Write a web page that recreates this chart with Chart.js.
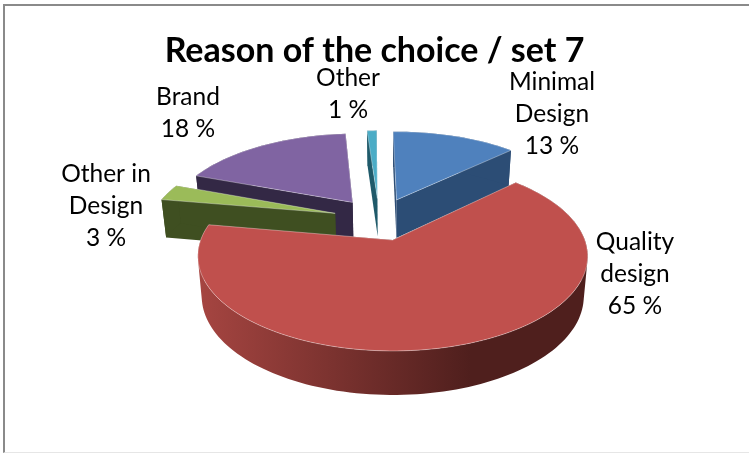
<!DOCTYPE html>
<html>
<head>
<meta charset="utf-8">
<title>Reason of the choice / set 7</title>
<script src="https://cdn.jsdelivr.net/npm/chart.js@4"></script>
<style>
    html, body { margin: 0; padding: 0; background: #fff; }
    #frame {
        position: absolute; left: 3px; top: 4px; right: 0; bottom: 0;
        border-top: 2px solid #8a8a8a;
        border-left: 2px solid #8a8a8a;
        border-bottom: 1px solid #e6e6e6;
    }
    #pie { position: absolute; left: 0; top: 0; }
</style>
</head>
<body>
<div id="frame"></div>
<canvas id="pie" width="749" height="453"></canvas>
<script>
const categories = ['Minimal Design', 'Quality design', 'Other in Design', 'Brand', 'Other'];
const shares = [13, 65, 3, 18, 1];
const topColors = ['#4f81bd', '#c0504d', '#9bbb59', '#8064a2', '#4bacc6'];
const wallColors = ['#2c4d75', '#4f1f1d', '#3f4f21', '#332845', '#1f5a6a'];
const labelLines = [['Minimal', 'Design'], ['Quality', 'design'], ['Other in', 'Design'], ['Brand'], ['Other']];

// centre of each label block, the pie itself gets its place from the camera below
const labelAnchors = [[552, 114], [635, 274], [106, 206], [188, 113], [348, 94]];

// back to front, red goes last because it sits closest to the viewer
const paintOrder = [4, 0, 3, 2, 1];

// fake perspective camera for the tilted pie
const camera = {
    panX: 17.5, panY: -24,
    scaleX: 1.601, scaleY: 0.7677,  // multiplied by the arc radius
    tilt: 0.17,
    originX: -0.07, originY: -0.24, // where the un-exploded centre lands
    depth: 39.6, depthX: 0.98, depthY: 1.04
};

const project = (chart, arc, u, v) => {
    const w = 1 - camera.tilt * (v + camera.originY);
    const dx = arc.outerRadius * camera.scaleX * (u + camera.originX) / w;
    const dy = arc.outerRadius * camera.scaleY * (v + camera.originY) / w;
    const x0 = arc.x + camera.panX;
    const y0 = arc.y + camera.panY;
    return {
        top: [x0 + dx, y0 + dy],
        bottom: [x0 + dx * camera.depthX, y0 + camera.depth + dy * camera.depthY]
    };
};

// samples one slice's rim, the first entry is the exploded apex
const sliceRim = (chart, arc) => {
    const mid = (arc.startAngle + arc.endAngle) / 2;
    // same explosion distance ArcElement.draw uses
    const e = arc.options.offset / 4 / arc.outerRadius;
    const ax = Math.cos(mid) * e;
    const ay = Math.sin(mid) * e;
    const rim = [];
    const steps = Math.max(2, Math.ceil((arc.endAngle - arc.startAngle) / 0.03));
    for (let i = 0; i <= steps; i++) {
        const a = arc.startAngle + (arc.endAngle - arc.startAngle) * i / steps;
        rim.push(project(chart, arc, ax + Math.cos(a), ay + Math.sin(a)));
    }
    return { apex: project(chart, arc, ax, ay), rim };
};

const addPolygon = (ctx, pts) => {
    pts.forEach((p, i) => i ? ctx.lineTo(p[0], p[1]) : ctx.moveTo(p[0], p[1]));
    ctx.closePath();
};

const tracePath = (ctx, pts) => {
    ctx.beginPath();
    addPolygon(ctx, pts);
};

// shoelace sign, so every wall quad winds the same way
const signedArea = pts => pts.reduce((sum, p, i) => {
    const q = pts[(i + 1) % pts.length];
    return sum + p[0] * q[1] - q[0] * p[1];
}, 0);

const pie3d = {
    id: 'pie3d',
    beforeDatasetDraw(chart, args) {
        const ctx = chart.ctx;
        const arcs = args.meta.data;
        ctx.save();
        paintOrder.forEach(i => {
            const { apex, rim } = sliceRim(chart, arcs[i]);
            const first = rim[0];
            const last = rim[rim.length - 1];

            // wall colour, red gets the sideways shading
            let wall = wallColors[i];
            if (i === 1) {
                const xs = rim.map(p => p.top[0]);
                const left = Math.min(...xs);
                const right = Math.max(...xs);
                wall = ctx.createLinearGradient(left, 0, right, 0);
                wall.addColorStop(0, '#a64541');
                wall.addColorStop(0.7, '#4f1f1d');
                wall.addColorStop(1, '#4f1f1d');
            }
            ctx.fillStyle = wall;

            tracePath(ctx, [apex.top, first.top, first.bottom, apex.bottom]);
            ctx.fill();
            tracePath(ctx, [apex.top, last.top, last.bottom, apex.bottom]);
            ctx.fill();

            // all rim quads in one path, filled at once so no seams show
            ctx.beginPath();
            for (let s = 0; s < rim.length - 1; s++) {
                const quad = [rim[s].top, rim[s + 1].top, rim[s + 1].bottom, rim[s].bottom];
                addPolygon(ctx, signedArea(quad) < 0 ? quad.reverse() : quad);
            }
            ctx.fill();

            tracePath(ctx, [apex.top].concat(rim.map(p => p.top)));
            ctx.fillStyle = topColors[i];
            ctx.fill();
            ctx.strokeStyle = 'rgba(255,255,255,0.35)';
            ctx.lineWidth = 1;
            ctx.stroke();
        });
        ctx.restore();
        return false;
    },
    afterDraw(chart) {
        const ctx = chart.ctx;
        ctx.save();
        ctx.font = '24.5px Lato';
        ctx.fillStyle = '#000';
        ctx.textAlign = 'center';
        ctx.textBaseline = 'middle';
        labelLines.forEach((lines, i) => {
            const rows = lines.concat(shares[i] + ' %');
            const startY = labelAnchors[i][1] - (rows.length - 1) * 16;
            rows.forEach((row, r) => ctx.fillText(row, labelAnchors[i][0], startY + r * 32));
        });
        ctx.restore();
    }
};

new Chart(document.getElementById('pie'), {
    type: 'pie',
    data: {
        labels: categories,
        datasets: [{
            data: shares,
            backgroundColor: topColors,
            radius: 120,
            offset: 120,
            borderWidth: 0
        }]
    },
    options: {
        responsive: false,
        animation: false,
        rotation: -1,
        plugins: {
            legend: { display: false },
            tooltip: { enabled: false },
            title: {
                display: true,
                text: 'Reason of the choice / set 7',
                color: '#000',
                font: { family: 'Lato', size: 34, weight: 'bold' },
                padding: { top: 30.6, bottom: 3.8 }
            }
        }
    },
    plugins: [pie3d]
});
</script>
</body>
</html>
